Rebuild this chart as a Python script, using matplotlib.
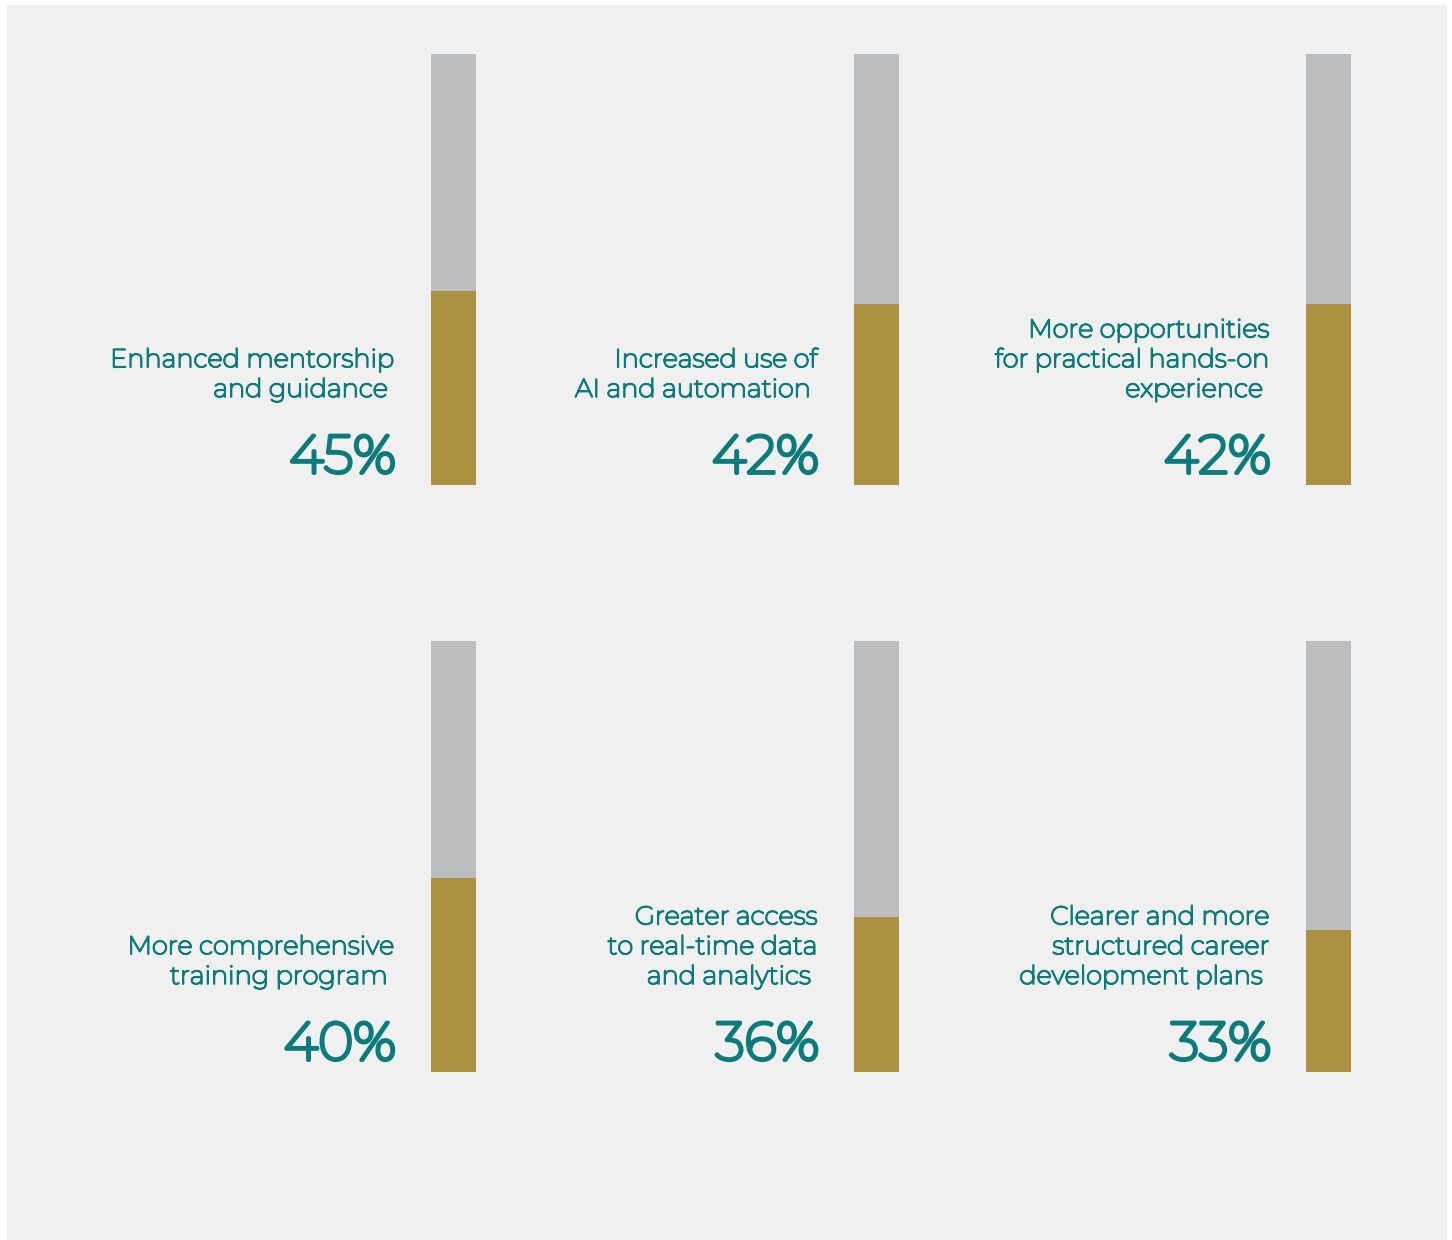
import matplotlib.pyplot as plt
import matplotlib.patheffects as pe
from matplotlib.patches import Rectangle
from matplotlib.transforms import offset_copy

labels = [
    "Enhanced mentorship\nand guidance ",
    "Increased use of\nAI and automation ",
    "More opportunities\nfor practical hands-on\nexperience ",
    "More comprehensive\ntraining program ",
    "Greater access\nto real-time data\nand analytics ",
    "Clearer and more\nstructured career\ndevelopment plans ",
]
pct_text = ["45%", "42%", "42%", "40%", "36%", "33%"]
# bar fill as drawn in the picture
fill = [45, 42, 42, 45, 36, 33]

teal = "#0d7b7b"
gold = "#ad9142"
grey = "#bcbdbe"
bg = "#eff0ef"

W, H = 1452, 1240
fig = plt.figure(figsize=(W / 100, H / 100), dpi=100, facecolor="white")
fig.patches.append(Rectangle((7 / W, 0), 1440 / W, 1235 / H, transform=fig.transFigure,
                             facecolor=bg, edgecolor="none", zorder=-5))

bar_x = [431, 854, 1306]
row_bottom = [485, 1072]
bar_w, bar_h = 45, 431

plt.rcParams['font.family'] = ['Montserrat', 'Open Sans', 'DejaVu Sans']

# the installed Montserrat is light, so thicken the strokes
thick_lbl = [pe.withStroke(linewidth=1.2, foreground=teal)]
thick_pct = [pe.withStroke(linewidth=2.8, foreground=teal)]

for i in range(6):
    r, c = divmod(i, 3)
    ax = fig.add_axes([bar_x[c] / W, (H - row_bottom[r]) / H, bar_w / W, bar_h / H])
    ax.set_zorder(2)
    ax.bar(0, 100, width=1, color=grey)
    ax.bar(0, fill[i], width=1, color=gold)
    ax.set_xlim(-0.5, 0.5)
    ax.set_ylim(0, 100)
    ax.axis("off")

    tr = offset_copy(ax.transAxes, fig=fig, x=-35, y=12, units="dots")
    ax.text(0, 0, pct_text[i], transform=tr, ha="right", va="baseline",
            fontsize=38.5, fontweight="bold", color=teal, path_effects=thick_pct)
    tr2 = offset_copy(ax.transAxes, fig=fig, x=-36, y=88, units="dots")
    ax.text(0, 0, labels[i], transform=tr2, ha="right", va="baseline", ma="right",
            fontsize=18.5, fontweight="semibold", color=teal, linespacing=1.24,
            path_effects=thick_lbl)

fig.savefig("out.png", dpi=100, facecolor="white")
